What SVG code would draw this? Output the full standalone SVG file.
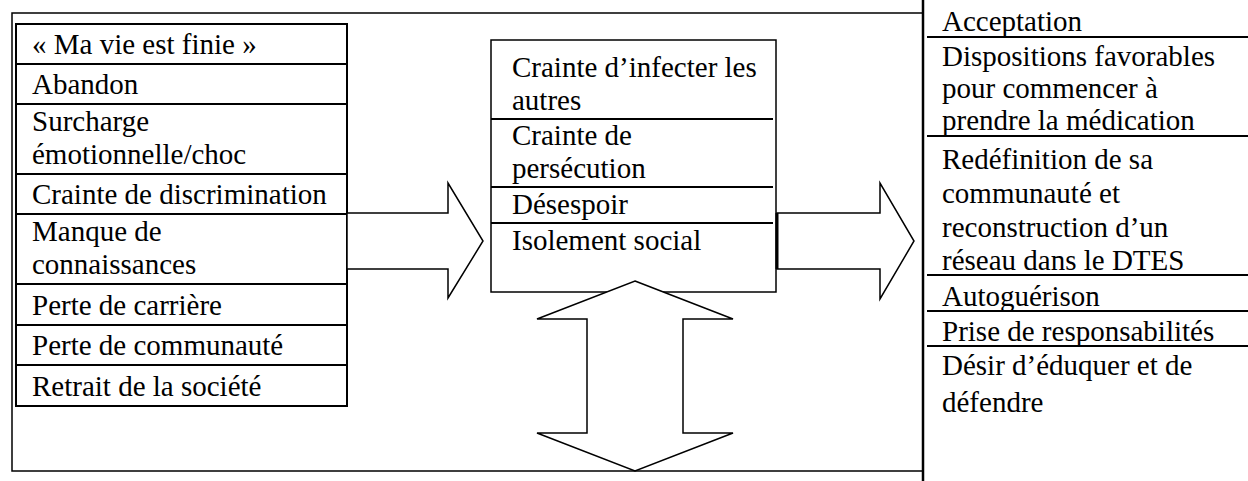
<svg xmlns="http://www.w3.org/2000/svg" width="1248" height="481" viewBox="0 0 1248 481">
<style>
.t{font-family:"Liberation Serif","Times New Roman",serif;font-size:29px;fill:#000}
.ln{stroke:#000;stroke-width:2;fill:none}
.thin{stroke:#000;stroke-width:1.5;fill:none}
.arr{stroke:#000;stroke-width:1.5;fill:#fff;stroke-linejoin:miter}
</style>
<rect width="1248" height="481" fill="#fff"/>
<g id="frame">
<polyline class="thin" points="922,13 12,13 12,471 922,471"/>
<line class="ln" x1="923" y1="0" x2="923" y2="481" style="stroke-width:2.5"/>
</g>
<g id="left-box">
<rect class="ln" x="16" y="24" width="331" height="382"/>
<g class="ln">
<line x1="16" y1="64" x2="347" y2="64"/>
<line x1="16" y1="104" x2="347" y2="104"/>
<line x1="16" y1="174" x2="347" y2="174"/>
<line x1="16" y1="214" x2="347" y2="214"/>
<line x1="16" y1="284" x2="347" y2="284"/>
<line x1="16" y1="325" x2="347" y2="325"/>
<line x1="16" y1="365" x2="347" y2="365"/>
</g>
<text class="t" x="32" y="54">« Ma vie est finie »</text>
<text class="t" x="32" y="94">Abandon</text>
<text class="t" x="32" y="131">Surcharge</text>
<text class="t" x="32" y="164">émotionnelle/choc</text>
<text class="t" x="32" y="204">Crainte de discrimination</text>
<text class="t" x="32" y="241">Manque de</text>
<text class="t" x="32" y="274">connaissances</text>
<text class="t" x="32" y="315">Perte de carrière</text>
<text class="t" x="32" y="355">Perte de communauté</text>
<text class="t" x="32" y="396">Retrait de la société</text>
</g>
<g id="center-box">
<rect class="thin" x="491" y="40" width="285" height="252"/>
<g class="ln">
<line x1="491" y1="119" x2="773" y2="119"/>
<line x1="491" y1="187" x2="773" y2="187"/>
<line x1="491" y1="223" x2="773" y2="223"/>
</g>
<text class="t" x="512" y="77">Crainte d’infecter les</text>
<text class="t" x="512" y="110">autres</text>
<text class="t" x="512" y="145">Crainte de</text>
<text class="t" x="512" y="178">persécution</text>
<text class="t" x="512" y="214">Désespoir</text>
<text class="t" x="512" y="250">Isolement social</text>
</g>
<g id="right-column">
<g class="ln">
<line x1="927" y1="37" x2="1248" y2="37"/>
<line x1="927" y1="136" x2="1248" y2="136"/>
<line x1="927" y1="275" x2="1248" y2="275"/>
<line x1="927" y1="311" x2="1248" y2="311"/>
<line x1="927" y1="346" x2="1248" y2="346"/>
</g>
<text class="t" x="942" y="31">Acceptation</text>
<text class="t" x="942" y="66">Dispositions favorables</text>
<text class="t" x="942" y="98">pour commencer à</text>
<text class="t" x="942" y="130">prendre la médication</text>
<text class="t" x="942" y="169">Redéfinition de sa</text>
<text class="t" x="942" y="203">communauté et</text>
<text class="t" x="942" y="237">reconstruction d’un</text>
<text class="t" x="942" y="270">réseau dans le DTES</text>
<text class="t" x="942" y="306">Autoguérison</text>
<text class="t" x="942" y="341">Prise de responsabilités</text>
<text class="t" x="942" y="375">Désir d’éduquer et de</text>
<text class="t" x="942" y="412">défendre</text>
</g>
<g id="connectors">
<polygon class="arr" points="347,213 448,213 448,183 483,241 448,298 448,269 347,269"/>
<polygon class="arr" points="777,213 880,213 880,183 914,241 880,299 880,269 777,269"/>
<line class="ln" x1="777" y1="213" x2="777" y2="269" style="stroke-width:3"/>
<polygon class="arr" points="635,281 733,319 683,319 683,433 733,433 635,471 537,433 587,433 587,319 537,319"/>
</g>
</svg>
